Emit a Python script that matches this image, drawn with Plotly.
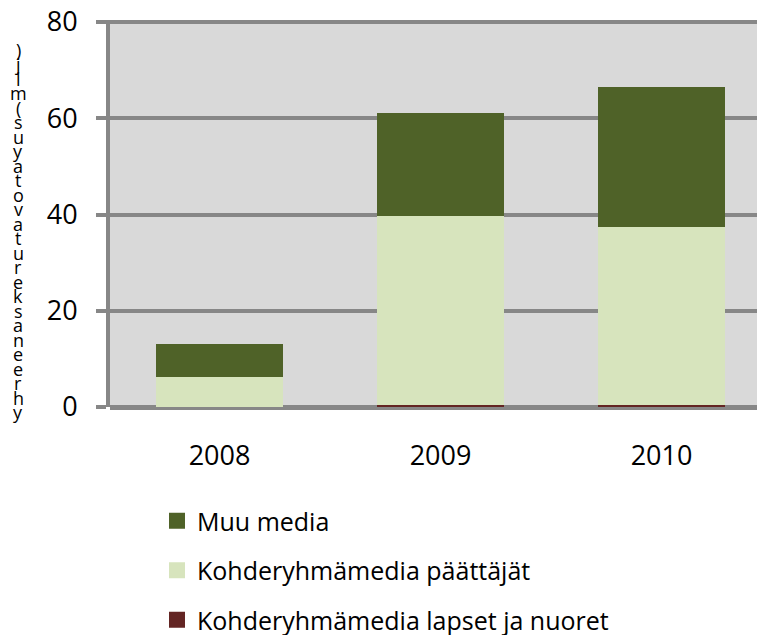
import plotly.graph_objects as go

years = ["2008", "2009", "2010"]
lapset = [0.0, 0.4, 0.4]
paattajat = [6.2, 39.2, 37.1]
muu = [6.9, 21.4, 28.9]

series_names = ["Kohderyhmämedia lapset ja nuoret", "Kohderyhmämedia päättäjät", "Muu media"]
series_colors = ["#632523", "#d7e4bd", "#4f6228"]

y_ticks = [0, 20, 40, 60, 80]
y_title_chars = [")", "j", "l", "m", "(", "s", "u", "y", "a", "t", "o", "v", "a",
                 "t", "u", "r", "e", "k", "s", "a", "n", "e", "e", "r", "h", "y"]

# the page body adds an 8px offset, so the figure is 8px smaller than the window
W, H = 757, 627
OFF = 8
PLOT_TOP, PLOT_BOT = 20, 407
FONT = "'Open Sans', Lato, sans-serif"
GRID = "#878787"

fig = go.Figure()
for name, vals, col in zip(series_names, [lapset, paattajat, muu], series_colors):
    fig.add_trace(go.Bar(x=years, y=vals, name=name, marker=dict(color=col, line=dict(width=0)),
                         width=0.575, showlegend=False))

# legend entries (larger square symbols), listed top-down as in the reference
for i, idx in enumerate([2, 1, 0]):
    fig.add_trace(go.Scatter(x=[None], y=[None], mode="markers", name=series_names[idx],
                             marker=dict(symbol="square", size=16, color=series_colors[idx]),
                             legendgroup=f"g{i}", showlegend=True))

# vertical y-axis title as stacked characters
top_px, bot_px = 50, 412
n = len(y_title_chars)
ph = PLOT_BOT - PLOT_TOP
for i, ch in enumerate(y_title_chars):
    ypx = top_px + (bot_px - top_px) * i / (n - 1)
    fig.add_annotation(text=ch, xref="paper", yref="paper", x=-92 / 655,
                       y=1 - (ypx - PLOT_TOP) / ph, showarrow=False,
                       font=dict(family=FONT, size=18, color="#000"),
                       xanchor="center", yanchor="middle")

fig.update_layout(
    width=W, height=H,
    margin=dict(l=110 - OFF, r=0, t=PLOT_TOP - OFF, b=H - (PLOT_BOT - OFF), autoexpand=False),
    paper_bgcolor="white",
    plot_bgcolor="#d9d9d9",
    barmode="stack",
    font=dict(family=FONT, size=25, color="#000"),
    xaxis=dict(range=[-0.4955, 2.468], showgrid=False, showline=False, ticks="",
               tickfont=dict(size=27), ticklabelstandoff=30, fixedrange=True, automargin=False),
    yaxis=dict(range=[0, 80.42], tickvals=y_ticks, showgrid=True, gridcolor=GRID, gridwidth=4,
               zeroline=True, zerolinecolor=GRID, zerolinewidth=5,
               showline=True, linecolor=GRID, linewidth=4,
               ticks="outside", ticklen=10, tickwidth=4, tickcolor=GRID,
               tickfont=dict(size=27), ticklabelstandoff=13, ticklabeloverflow="allow",
               automargin=False),
    legend=dict(xref="container", yref="container", x=(157 - OFF) / W, y=1 - (498 - OFF) / H,
                xanchor="left", yanchor="top", traceorder="grouped",
                tracegroupgap=14, font=dict(size=25), bgcolor="rgba(0,0,0,0)"),
)

fig.write_html("out.html")
